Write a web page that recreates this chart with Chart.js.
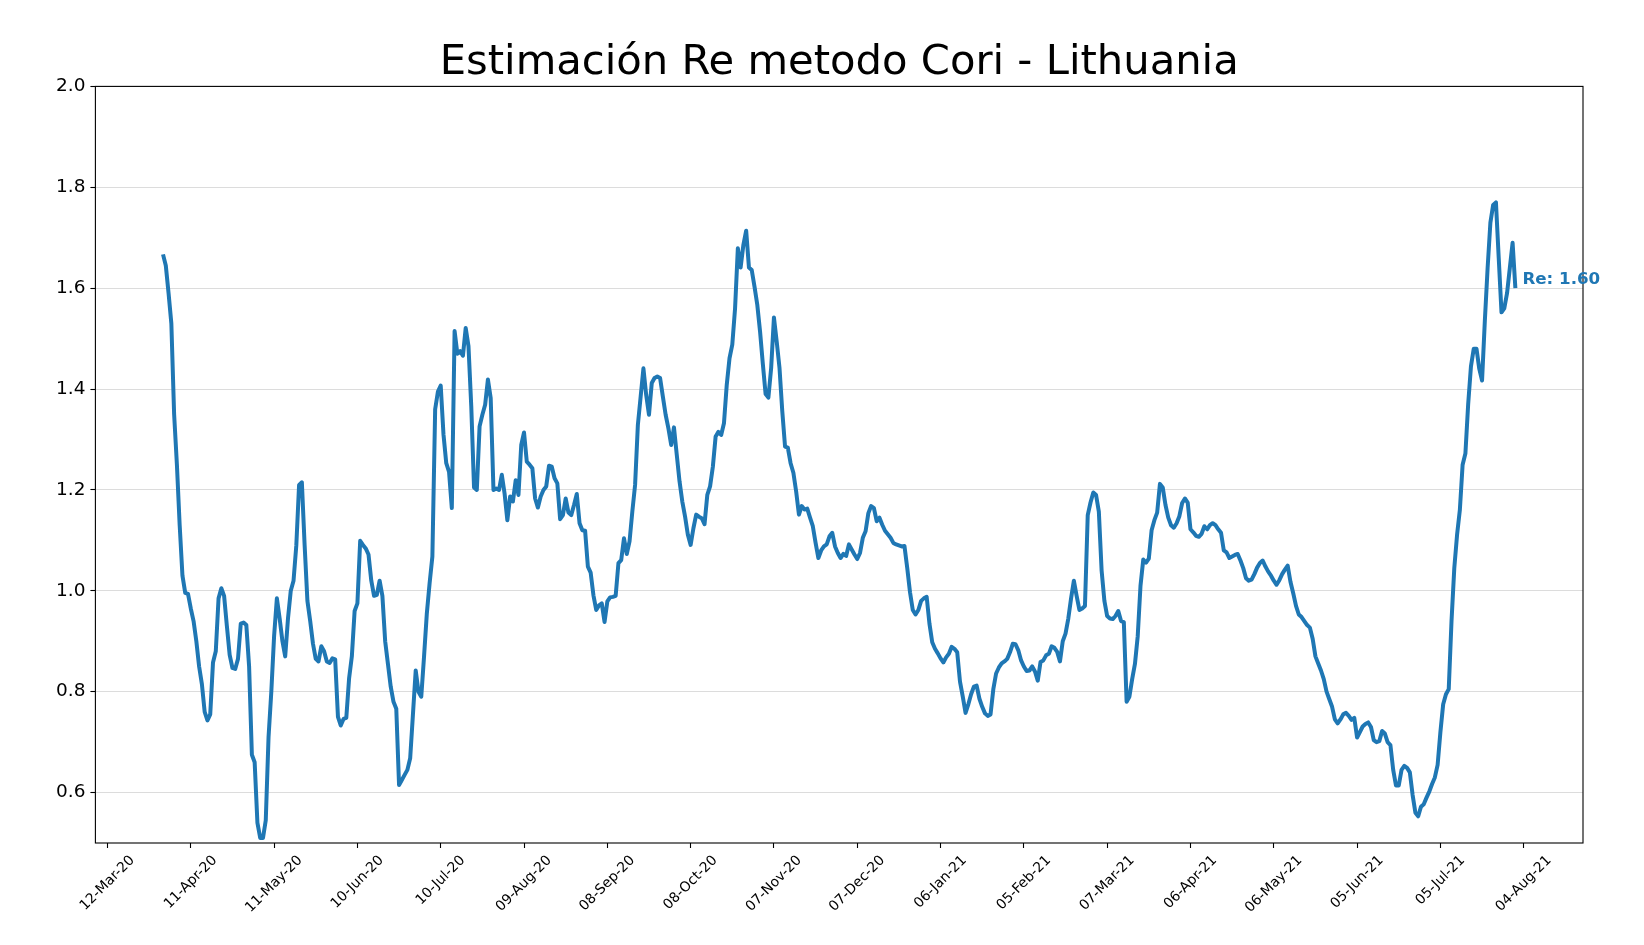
<!DOCTYPE html>
<html>
<head>
<meta charset="utf-8">
<title>Estimación Re metodo Cori - Lithuania</title>
<script src="https://cdn.jsdelivr.net/npm/chart.js@4.4.0/dist/chart.umd.min.js"></script>
<style>
  html, body { margin: 0; padding: 0; background: #fff; }
  #wrap { width: 1644px; height: 945px; }
</style>
</head>
<body>
<div id="wrap"><canvas id="myChart" width="1644" height="945"></canvas></div>
<script>
const titleText = 'Estimación Re metodo Cori - Lithuania';
const firstDate = '2020-04-01';   // one value per day from here
const reValues = [
  1.667, 1.645, 1.59, 1.53, 1.35, 1.25, 1.13, 1.03, 0.996, 0.994,
  0.965, 0.94, 0.90, 0.85, 0.815, 0.76, 0.743, 0.755, 0.858, 0.88,
  0.985, 1.005, 0.99, 0.93, 0.873, 0.847, 0.845, 0.865, 0.935, 0.937,
  0.932, 0.85, 0.675, 0.66, 0.54, 0.51, 0.51, 0.545, 0.71, 0.80,
  0.91, 0.985, 0.945, 0.90, 0.87, 0.945, 1.0, 1.02, 1.09, 1.21,
  1.215, 1.09, 0.98, 0.94, 0.895, 0.865, 0.86, 0.89, 0.88, 0.86,
  0.857, 0.866, 0.864, 0.75, 0.733, 0.746, 0.748, 0.826, 0.87, 0.96,
  0.975, 1.099, 1.091, 1.084, 1.072, 1.02, 0.99, 0.992, 1.02, 0.99,
  0.90, 0.855, 0.81, 0.78, 0.766, 0.615, 0.625, 0.635, 0.645, 0.668,
  0.755, 0.842, 0.80, 0.79, 0.87, 0.955, 1.015, 1.068, 1.36, 1.395,
  1.407, 1.31, 1.253, 1.236, 1.164, 1.515, 1.47, 1.475, 1.466, 1.521,
  1.485, 1.366, 1.205, 1.2, 1.326, 1.349, 1.369, 1.419, 1.382, 1.2,
  1.203, 1.2, 1.23, 1.193, 1.14, 1.187, 1.177, 1.219, 1.19, 1.289,
  1.314, 1.256, 1.25, 1.243, 1.183, 1.165, 1.187, 1.2, 1.207, 1.248,
  1.246, 1.223, 1.213, 1.142, 1.15, 1.183, 1.155, 1.15, 1.17, 1.192,
  1.134, 1.12, 1.119, 1.048, 1.036, 0.991, 0.962, 0.971, 0.975, 0.938,
  0.979, 0.987, 0.988, 0.99, 1.055, 1.061, 1.104, 1.073, 1.098, 1.157,
  1.21, 1.329, 1.385, 1.441, 1.388, 1.349, 1.412, 1.422, 1.425, 1.422,
  1.385, 1.349, 1.322, 1.289, 1.324, 1.27, 1.217, 1.177, 1.147, 1.111,
  1.091, 1.124, 1.151, 1.147, 1.144, 1.132, 1.19, 1.207, 1.246, 1.306,
  1.315, 1.309, 1.332, 1.408, 1.461, 1.488, 1.56, 1.679, 1.641, 1.686,
  1.714, 1.641, 1.636, 1.603, 1.567, 1.514, 1.45, 1.39, 1.383, 1.442,
  1.542, 1.494, 1.442, 1.356, 1.286, 1.284, 1.253, 1.234, 1.197, 1.151,
  1.168, 1.161, 1.163, 1.145, 1.128, 1.095, 1.065, 1.08, 1.088, 1.092,
  1.108, 1.115, 1.088, 1.075, 1.065, 1.073, 1.069, 1.092, 1.082, 1.072,
  1.063, 1.075, 1.105, 1.118, 1.154, 1.168, 1.164, 1.138, 1.145, 1.131,
  1.119, 1.112, 1.105, 1.095, 1.092, 1.09, 1.088, 1.089, 1.045, 0.997,
  0.962, 0.953, 0.962, 0.98, 0.985, 0.988, 0.935, 0.898, 0.885, 0.876,
  0.866, 0.858, 0.868, 0.875, 0.889, 0.885, 0.878, 0.82, 0.79, 0.758,
  0.775, 0.795, 0.81, 0.812, 0.786, 0.77, 0.757, 0.752, 0.755, 0.805,
  0.836, 0.848, 0.856, 0.86, 0.865, 0.878, 0.895, 0.894, 0.882, 0.862,
  0.85, 0.841, 0.842, 0.85, 0.84, 0.822, 0.859, 0.862, 0.872, 0.875,
  0.89, 0.887, 0.879, 0.86, 0.90, 0.915, 0.945, 0.985, 1.02, 0.99,
  0.962, 0.965, 0.97, 1.15, 1.175, 1.195, 1.19, 1.157, 1.04, 0.98,
  0.95, 0.945, 0.944, 0.95, 0.96, 0.94, 0.938, 0.78, 0.79, 0.825,
  0.855, 0.91, 1.01, 1.062, 1.056, 1.064, 1.12, 1.14, 1.155, 1.212,
  1.205, 1.17, 1.145, 1.13, 1.125, 1.134, 1.148, 1.174, 1.183, 1.175,
  1.122, 1.116, 1.109, 1.107, 1.113, 1.128, 1.122, 1.13, 1.134, 1.13,
  1.122, 1.115, 1.08, 1.076, 1.065, 1.068, 1.071, 1.073, 1.06, 1.045,
  1.025, 1.02, 1.022, 1.033, 1.046, 1.055, 1.06, 1.048, 1.038, 1.03,
  1.02, 1.012, 1.021, 1.033, 1.042, 1.05, 1.018, 0.995, 0.97, 0.953,
  0.948, 0.94, 0.932, 0.927, 0.905, 0.87, 0.856, 0.842, 0.825, 0.80,
  0.785, 0.77, 0.745, 0.737, 0.745, 0.755, 0.758, 0.752, 0.744, 0.748,
  0.709, 0.72, 0.731, 0.736, 0.739, 0.73, 0.704, 0.70, 0.702, 0.722,
  0.717, 0.70, 0.694, 0.645, 0.614, 0.614, 0.645, 0.653, 0.649, 0.64,
  0.595, 0.56, 0.553, 0.572, 0.577, 0.59, 0.602, 0.617, 0.63, 0.655,
  0.72, 0.775, 0.795, 0.805, 0.94, 1.045, 1.111, 1.16, 1.25, 1.272,
  1.37, 1.445, 1.48, 1.48, 1.44, 1.417, 1.535, 1.64, 1.73, 1.765,
  1.77, 1.66, 1.552, 1.56, 1.59, 1.64, 1.69, 1.60
];
const xTickLabels = [
  '12-Mar-20', '11-Apr-20', '11-May-20', '10-Jun-20', '10-Jul-20', '09-Aug-20',
  '08-Sep-20', '08-Oct-20', '07-Nov-20', '07-Dec-20', '06-Jan-21', '05-Feb-21',
  '07-Mar-21', '06-Apr-21', '06-May-21', '05-Jun-21', '05-Jul-21', '04-Aug-21'
];
const yTicks = [0.6, 0.8, 1.0, 1.2, 1.4, 1.6, 1.8, 2.0];

// day numbers counted from the first tick date
const DAY = 86400000;
const MONTHS = {Jan: 0, Feb: 1, Mar: 2, Apr: 3, May: 4, Jun: 5, Jul: 6, Aug: 7, Sep: 8, Oct: 9, Nov: 10, Dec: 11};
function labelToTime(s) {
  const [d, m, y] = s.split('-');
  return Date.UTC(2000 + Number(y), MONTHS[m], Number(d));
}
const origin = labelToTime(xTickLabels[0]);
const tickDays = xTickLabels.map(s => (labelToTime(s) - origin) / DAY);
const firstDay = (Date.parse(firstDate) - origin) / DAY;
const points = reValues.map((v, i) => ({x: firstDay + i, y: v}));
const lastDay = firstDay + reValues.length - 1;
const span = lastDay - firstDay;

const FONT = '"DejaVu Sans", "Liberation Sans", sans-serif';
const BLUE = '#1f77b4';

const decor = {
  id: 'decor',
  afterDraw(chart) {
    const {ctx, chartArea: a, scales: {x, y}} = chart;
    ctx.save();
    // axes frame
    ctx.strokeStyle = '#000';
    ctx.lineWidth = 1.1;
    ctx.strokeRect(a.left, a.top, a.right - a.left, a.bottom - a.top);

    // rotated date labels, centred under each tick
    ctx.font = '13.9px ' + FONT;
    ctx.fillStyle = '#000';
    ctx.textAlign = 'center';
    ctx.textBaseline = 'middle';
    const r = Math.SQRT1_2;
    x.ticks.forEach((t, i) => {
      const label = xTickLabels[i];
      const w = ctx.measureText(label).width;
      const px = x.getPixelForValue(t.value);
      const py = a.bottom + 9.8 + (w * r + 15 * r) / 2;
      ctx.save();
      ctx.translate(px, py);
      ctx.rotate(-Math.PI / 4);
      ctx.fillText(label, 0, 0);
      ctx.restore();
    });

    // last value label
    const lastVal = reValues[reValues.length - 1];
    ctx.font = 'bold 16.7px ' + FONT;
    ctx.fillStyle = BLUE;
    ctx.textAlign = 'left';
    ctx.textBaseline = 'middle';
    ctx.fillText('Re: ' + lastVal.toFixed(2), x.getPixelForValue(lastDay) + 7, y.getPixelForValue(lastVal) - 8);
    ctx.restore();
  }
};

const ctx = document.getElementById('myChart').getContext('2d');
const myChart = new Chart(ctx, {
  type: 'line',
  data: {
    datasets: [{
      label: 'Re',
      data: points,
      borderColor: BLUE,
      borderWidth: 4,
      pointRadius: 0,
      tension: 0,
      borderJoinStyle: 'round',
      fill: false
    }]
  },
  options: {
    responsive: false,
    animation: false,
    layout: { padding: { left: 0, right: 61, top: 0, bottom: 0 } },
    plugins: {
      legend: { display: false },
      tooltip: { enabled: false },
      title: {
        display: true,
        text: titleText,
        color: '#000',
        fullSize: false,
        font: { family: FONT, size: 41.7, weight: 'normal', lineHeight: 1 },
        padding: { top: 42, bottom: 2.7 }
      }
    },
    scales: {
      x: {
        type: 'linear',
        min: firstDay - 0.05 * span,
        max: lastDay + 0.05 * span,
        afterBuildTicks: scale => { scale.ticks = tickDays.map(v => ({value: v})); },
        afterFit: scale => { scale.height = 102; },
        ticks: { display: false, callback: (v, i) => xTickLabels[i] },
        grid: { drawOnChartArea: false, drawTicks: true, tickLength: 5, tickColor: '#000', tickWidth: 1.1 },
        border: { display: false }
      },
      y: {
        min: 0.5,
        max: 2.0,
        afterBuildTicks: scale => { scale.ticks = yTicks.map(v => ({value: v})); },
        afterFit: scale => { scale.width = 95.4; },
        ticks: {
          color: '#000',
          padding: 5,
          font: { family: FONT, size: 18.5 },
          callback: v => v.toFixed(1)
        },
        grid: { color: '#dcdcdc', lineWidth: 1, tickLength: 5, tickColor: '#000', tickWidth: 1.1 },
        border: { display: false }
      }
    }
  },
  plugins: [decor]
});
</script>
</body>
</html>
